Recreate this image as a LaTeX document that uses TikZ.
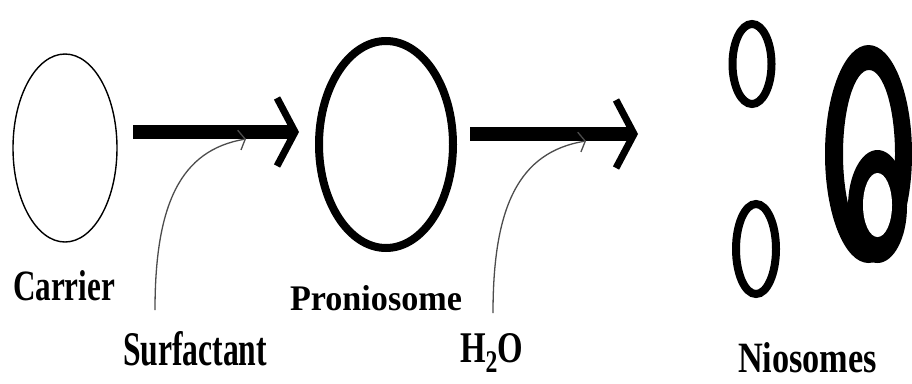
\documentclass[tikz,border=0pt]{standalone}
\usepackage{fontspec}
\setmainfont{Liberation Serif}
\usepackage{graphicx}
\usetikzlibrary{arrows.meta,shapes.geometric}
\begin{document}
\begin{tikzpicture}[x=1pt,y=1pt,
  lbl/.style={anchor=base west, inner sep=0pt, outer sep=0pt, font=\bfseries},
  shell/.style={ellipse, draw, inner sep=0pt, outer sep=0pt},
  bigarrow/.style={line width=14pt, -{Straight Barb[line width=7pt, length=18pt, width=68pt]}},
  feed/.style={line width=1.3pt, black!70, -{Straight Barb[line width=1.3pt, length=6pt, width=20pt]}}]
\useasboundingbox (0,0) rectangle (912,-383);
% carrier and proniosome
\node[shell, line width=1.4pt, minimum width=104pt, minimum height=188pt] (carrier) at (65,-148) {};
\node[shell, line width=8pt, minimum width=134pt, minimum height=207pt] (pro) at (386,-144.5) {};
% niosomes
\draw[line width=8pt] (752,-64) ellipse [x radius=19.5, y radius=40];
\draw[line width=8pt] (756,-249) ellipse [x radius=20, y radius=45];
\fill[even odd rule] (868.5,-154) ellipse [x radius=43.5, y radius=109] (869,-154) ellipse [x radius=26, y radius=84];
\fill (877.5,-206.5) ellipse [x radius=29.5, y radius=56.5];
\fill[white] (877.5,-205) ellipse [x radius=14.5, y radius=32];
% big arrows
\coordinate (niotip) at (638,-134);
\draw[bigarrow, shorten <=16pt, shorten >=20pt] ([yshift=16pt]carrier.east) -- ([yshift=12.5pt]pro.west);
\draw[bigarrow, shorten <=17pt] ([yshift=10.5pt]pro.east) -- (niotip);
% feed arrows
\coordinate (s0) at (155,-310); \coordinate (s1) at (246,-139);
\draw[feed] (s0) .. controls (155,-205) and (180,-150) .. (s1);
\coordinate (w0) at (493,-313); \coordinate (w1) at (586,-141);
\draw[feed] (w0) .. controls (493,-208) and (518,-152) .. (w1);
% labels
\node[lbl] (carrierlbl) at (13,-300) {\resizebox{102pt}{30pt}{Carrier}};
\node[lbl] (surf) at (123,-365) {\resizebox{144pt}{34pt}{Surfactant}};
\node[lbl] (prolbl) at (290,-310) {\resizebox{172pt}{25pt}{Proniosome}};
\node[lbl] (water) at (460,-362) {\resizebox{63pt}{29pt}{H\raisebox{-0.25em}{\scalebox{0.72}{2}}O}};
\node[lbl] (nio) at (738,-372) {\resizebox{139pt}{30pt}{Niosomes}};
\end{tikzpicture}
\end{document}
